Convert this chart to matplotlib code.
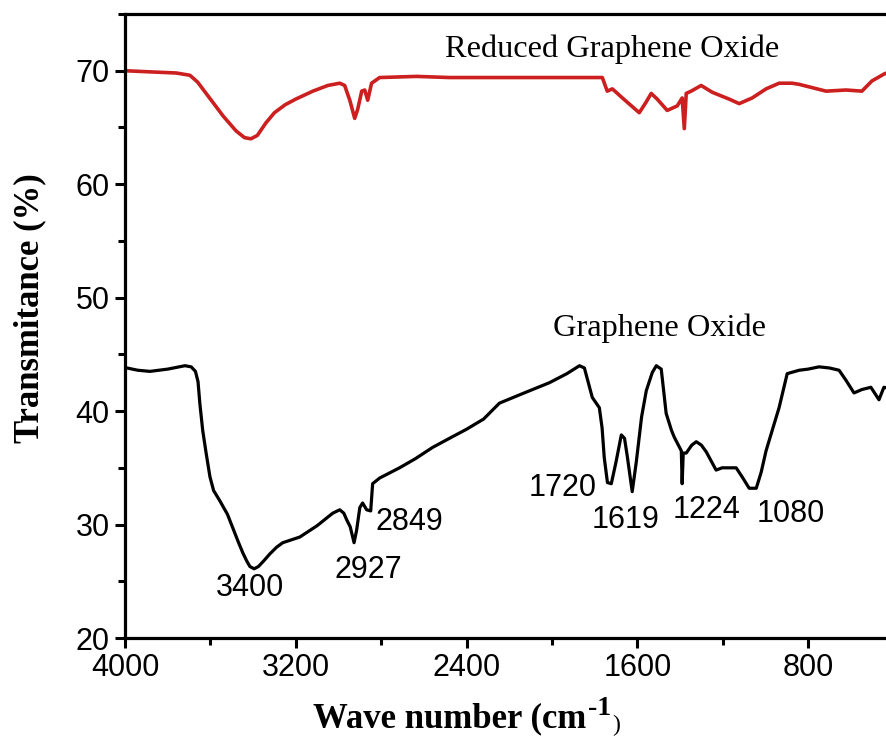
import numpy as np
import matplotlib
matplotlib.use("Agg")
import matplotlib.pyplot as plt
from matplotlib.ticker import MultipleLocator

# FTIR spectra: wavenumber (cm^-1) vs transmittance (%)
go_wavenumber = [3991, 3940, 3883, 3800, 3719, 3690, 3670, 3658, 3649, 3636,
                 3620, 3602, 3585, 3556, 3520, 3495, 3470, 3448, 3430, 3415,
                 3395, 3375, 3350, 3322, 3290, 3261, 3181, 3100, 3027, 2994,
                 2975, 2961, 2945, 2927, 2915, 2900, 2887, 2868, 2849, 2840,
                 2807, 2714, 2640, 2559, 2480, 2400, 2320, 2246, 2130, 2012,
                 1930, 1871, 1848, 1811, 1778, 1765, 1755, 1740, 1722, 1700,
                 1675, 1660, 1647, 1624, 1605, 1580, 1558, 1530, 1511, 1488,
                 1465, 1440, 1427, 1394, 1390, 1385, 1371, 1345, 1324, 1300,
                 1277, 1231, 1203, 1137, 1109, 1076, 1043, 1020, 997, 965,
                 936, 898, 842, 800, 749, 700, 655, 622, 585, 548,
                 506, 468, 445, 420]
go_transmittance = [43.8, 43.6, 43.5, 43.7, 44.0, 43.9, 43.5, 42.6, 40.6, 38.3,
                    36.3, 34.2, 33.0, 32.1, 30.9, 29.7, 28.5, 27.5, 26.8, 26.3,
                    26.1, 26.3, 26.8, 27.4, 28.0, 28.4, 28.9, 29.9, 31.0, 31.3,
                    31.0, 30.4, 29.8, 28.4, 29.5, 31.5, 31.9, 31.3, 31.2, 33.6,
                    34.1, 35.0, 35.8, 36.8, 37.6, 38.4, 39.3, 40.7, 41.6, 42.5,
                    43.3, 44.0, 43.8, 41.2, 40.3, 38.5, 35.9, 33.7, 33.6, 35.5,
                    37.9, 37.6, 36.0, 32.9, 35.5, 39.5, 41.8, 43.4, 44.0, 43.7,
                    39.8, 38.3, 37.7, 36.5, 33.6, 36.3, 36.3, 37.0, 37.3, 37.0,
                    36.4, 34.8, 35.0, 35.0, 34.2, 33.2, 33.2, 34.6, 36.5, 38.5,
                    40.3, 43.3, 43.6, 43.7, 43.9, 43.8, 43.6, 42.7, 41.6, 41.9,
                    42.1, 41.0, 42.1, 42.0]

rgo_wavenumber = [4000, 3883, 3760, 3696, 3660, 3600, 3540, 3480, 3440, 3410,
                  3380, 3340, 3300, 3250, 3200, 3120, 3050, 2994, 2971, 2947,
                  2924, 2910, 2891, 2877, 2863, 2845, 2807, 2634, 2480, 1871,
                  1764, 1741, 1717, 1670, 1591, 1560, 1535, 1507, 1460, 1413,
                  1390, 1380, 1371, 1348, 1301, 1249, 1170, 1123, 1062, 997,
                  936, 875, 842, 716, 622, 548, 501, 445, 420]
rgo_transmittance = [70.0, 69.9, 69.8, 69.6, 69.0, 67.5, 66.0, 64.7, 64.1, 64.0,
                     64.3, 65.4, 66.3, 67.0, 67.5, 68.2, 68.7, 68.9, 68.7, 67.4,
                     65.8, 66.6, 68.2, 68.3, 67.4, 68.9, 69.4, 69.5, 69.4, 69.4,
                     69.4, 68.2, 68.4, 67.6, 66.3, 67.2, 68.0, 67.5, 66.5, 66.9,
                     67.6, 64.9, 68.0, 68.2, 68.7, 68.1, 67.5, 67.1, 67.6, 68.4,
                     68.9, 68.9, 68.8, 68.2, 68.3, 68.2, 69.1, 69.7, 69.9]

peak_labels = ["3400", "2927", "2849", "1720", "1619", "1224", "1080"]
peak_label_x = [3415, 2859, 2667, 1951, 1656, 1277, 880]
peak_label_y = [24.4, 26.0, 30.2, 33.2, 30.4, 31.3, 30.9]

x_ticks = [4000, 3200, 2400, 1600, 800]
y_ticks = [20, 30, 40, 50, 60, 70]

W, H = 886, 737
fig = plt.figure(figsize=(W / 100, H / 100), dpi=100)
ax = fig.add_axes([125 / W, 99 / H, 768.5 / W, 624 / H])

ax.plot(go_wavenumber, go_transmittance, color="black", lw=2.3,
        solid_joinstyle="round", solid_capstyle="round")
ax.plot(rgo_wavenumber, rgo_transmittance, color="#cc1f1f", lw=2.6,
        solid_joinstyle="round", solid_capstyle="round")

ax.set_xlim(4000, 400)
ax.set_ylim(20, 75)
ax.set_xticks(x_ticks)
ax.set_yticks(y_ticks)
ax.xaxis.set_minor_locator(MultipleLocator(400))
ax.yaxis.set_minor_locator(MultipleLocator(5))

for side in ["left", "bottom", "top", "right"]:
    ax.spines[side].set_linewidth(2.3)
ax.tick_params(which="major", direction="out", length=7, width=2.2,
               labelsize=22, pad=4, top=False, right=False)
ax.tick_params(which="minor", direction="out", length=5, width=2.2,
               top=False, right=False)
for lab in ax.get_xticklabels() + ax.get_yticklabels():
    lab.set_fontfamily("Liberation Sans")

ax.set_ylabel("Transmitance (%)", fontfamily="Liberation Serif",
              fontweight="bold", fontsize=25, va="center")
ax.yaxis.set_label_coords((30 - 125) / 768.5, (638 - 308) / 624)

# x-axis title assembled from pieces so the unit exponent sits as a raised "-1"
label_font = dict(fontfamily="Liberation Serif", fontweight="bold")
renderer = fig.canvas.get_renderer()
main = fig.text(313 / W, 1 - 727 / H, "Wave number (cm", fontsize=25,
                va="baseline", ha="left", **label_font)
x_end = main.get_window_extent(renderer).x1
sup = fig.text((x_end + 2) / W, 1 - 715 / H, "-1", fontsize=20,
               va="baseline", ha="left", **label_font)
x_end = sup.get_window_extent(renderer).x1
fig.text((x_end + 1) / W, 1 - 731 / H, ")", fontsize=17,
         va="baseline", ha="left", fontfamily="Liberation Serif")

for txt, x, y in zip(peak_labels, peak_label_x, peak_label_y):
    ax.text(x, y, txt, fontsize=22, fontfamily="Liberation Sans",
            ha="center", va="center")

ax.text(1717, 71.9, "Reduced Graphene Oxide", fontsize=23.3,
        fontfamily="Liberation Serif", ha="center", va="center")
ax.text(1497, 47.3, "Graphene Oxide", fontsize=23.3,
        fontfamily="Liberation Serif", ha="center", va="center")

fig.savefig("out.png", dpi=100)
